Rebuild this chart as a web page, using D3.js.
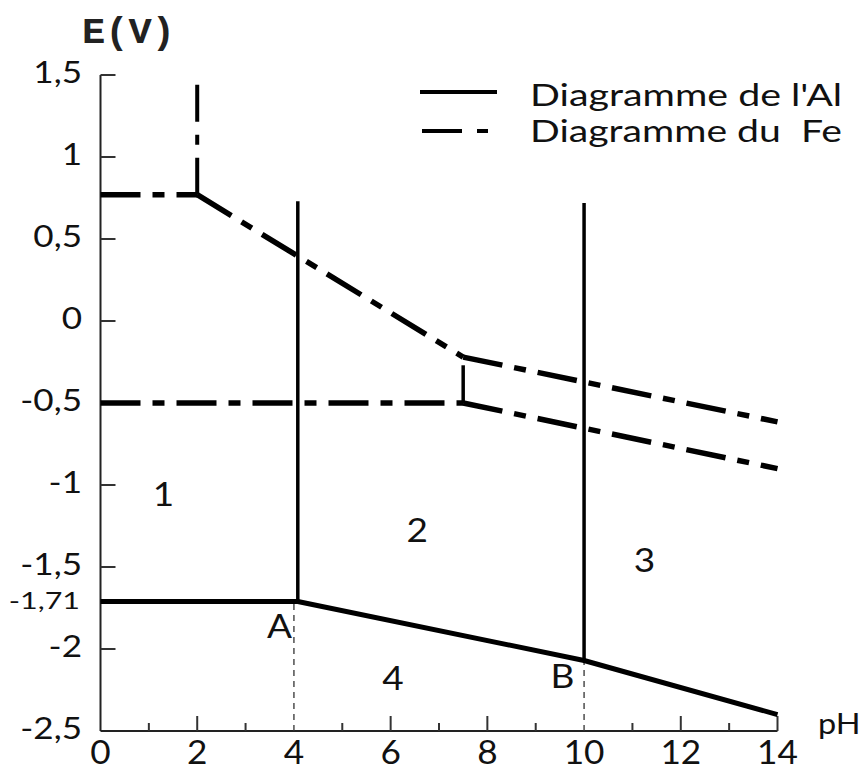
<!DOCTYPE html>
<html><head><meta charset="utf-8">
<script src="https://cdn.jsdelivr.net/npm/d3@7"></script>
<style>
html,body{margin:0;padding:0;background:#fff;}
svg{display:block;}
</style></head>
<body>
<svg id="c" width="866" height="772"></svg>
<script>
// ---- data ----
const yTicks = [1.5, 1, 0.5, 0, -0.5, -1, -1.5, -2, -2.5];
const yTickLabels = ["1,5", "1", "0,5", "0", "-0,5", "-1", "-1,5", "-2", "-2,5"];
const xMajorTicks = [0, 2, 4, 6, 8, 10, 12, 14];
const xMinorTicks = [1, 3, 5, 7, 9, 11, 13];
const alLine = [[0, -1.71], [4.08, -1.71], [10, -2.07], [14, -2.40]];
const alVerticals = [[[4.08, -1.71], [4.08, 0.73]], [[10, -2.07], [10, 0.72]]];
const alGuides = [[4, -2.5, -1.71], [10, -2.5, -2.07]];
const feDashSegments = [
  [[0, 0.77], [2, 0.77]],
  [[2, 0.77], [2, 1.45]],
  [[2, 0.77], [7.5, -0.22]],
  [[7.5, -0.22], [14, -0.615]],
  [[0, -0.5], [7.5, -0.5]],
  [[7.5, -0.5], [14, -0.90]]
];
const feSolidSegments = [[[7.5, -0.5], [7.5, -0.27]]];
const regionLabels = [
  {t: "1", ph: 1.3, e: -1.05},
  {t: "2", ph: 6.55, e: -1.27},
  {t: "3", ph: 11.25, e: -1.45},
  {t: "4", ph: 6.05, e: -2.17},
  {t: "A", ph: 3.7, e: -1.85},
  {t: "B", ph: 9.55, e: -2.16}
];
const legendItems = ["Diagramme de l'Al", "Diagramme du  Fe"];

// ---- scales ----
const svg = d3.select("#c");
const x = d3.scaleLinear().domain([0, 14]).range([100.5, 777.5]);
const y = d3.scaleLinear().domain([-2.5, 1.5]).range([731, 75]);
const line = d3.line().x(d => x(d[0])).y(d => y(d[1]));
const font = "Lato, 'Open Sans', sans-serif";

// axes
svg.append("line").attr("x1", x(0)).attr("x2", x(0)).attr("y1", y(1.5)).attr("y2", y(-2.5))
  .attr("stroke", "#222").attr("stroke-width", 2);
svg.append("line").attr("x1", x(0)).attr("x2", x(14)).attr("y1", y(-2.5)).attr("y2", y(-2.5))
  .attr("stroke", "#222").attr("stroke-width", 2);

// y ticks
svg.selectAll(".yt").data(yTicks.filter(v => v > -2.5)).enter().append("line")
  .attr("x1", x(0)).attr("x2", x(0) + 15).attr("y1", d => y(d)).attr("y2", d => y(d))
  .attr("stroke", "#333").attr("stroke-width", 2);
svg.selectAll(".yl").data(yTicks).enter().append("text")
  .attr("transform", d => `translate(82,${y(d) + 8}) scale(1.17,1)`).attr("text-anchor", "end")
  .attr("font-family", font).attr("font-size", 30).attr("fill", "#111")
  .text((d, i) => yTickLabels[i]);
svg.append("text").attr("transform", `translate(80,${y(-1.71) + 8}) scale(1.27,1)`).attr("text-anchor", "end")
  .attr("font-family", font).attr("font-size", 24).attr("fill", "#111").text("-1,71");

// x ticks
svg.selectAll(".xt").data(xMajorTicks.filter(v => v > 0 && v !== 4 && v !== 10)).enter().append("line")
  .attr("x1", d => x(d)).attr("x2", d => x(d)).attr("y1", y(-2.5)).attr("y2", y(-2.5) - 15)
  .attr("stroke", "#333").attr("stroke-width", 2);
svg.selectAll(".xm").data(xMinorTicks).enter().append("line")
  .attr("x1", d => x(d)).attr("x2", d => x(d)).attr("y1", y(-2.5)).attr("y2", y(-2.5) - 8)
  .attr("stroke", "#333").attr("stroke-width", 2);
svg.selectAll(".xl").data(xMajorTicks).enter().append("text")
  .attr("transform", d => `translate(${x(d)},764) scale(1.1,1)`).attr("text-anchor", "middle")
  .attr("font-family", font).attr("font-size", 32).attr("fill", "#111").text(d => d);

// axis titles
svg.append("text").attr("x", 82).attr("y", 43).attr("font-family", "'Liberation Mono', monospace")
  .attr("font-size", 36).attr("font-weight", "bold").attr("fill", "#222")
  .attr("textLength", 93).attr("lengthAdjust", "spacingAndGlyphs").text("E(V)");
svg.append("text").attr("transform", "translate(818,734) scale(1.12,1)").attr("font-family", font)
  .attr("font-size", 29).attr("fill", "#111").text("pH");

// guides
svg.selectAll(".g").data(alGuides).enter().append("line")
  .attr("x1", d => x(d[0])).attr("x2", d => x(d[0])).attr("y1", d => y(d[1])).attr("y2", d => y(d[2]))
  .attr("stroke", "#333").attr("stroke-width", 1.3).attr("stroke-dasharray", "6,5");

// Fe lines
svg.selectAll(".fe").data(feDashSegments).enter().append("path")
  .attr("d", line).attr("fill", "none").attr("stroke", "#000")
  .attr("stroke-width", (d, i) => i === 1 ? 4 : 5.5).attr("stroke-dasharray", (d, i) => i === 1 ? "37,13,10,13" : "40,12,12,12");
svg.selectAll(".fes").data(feSolidSegments).enter().append("path")
  .attr("d", line).attr("fill", "none").attr("stroke", "#000").attr("stroke-width", 3.5);

// Al lines
svg.selectAll(".alv").data(alVerticals).enter().append("path")
  .attr("d", line).attr("fill", "none").attr("stroke", "#000").attr("stroke-width", 3.5);
svg.append("path").datum(alLine).attr("d", line).attr("fill", "none")
  .attr("stroke", "#000").attr("stroke-width", 5).attr("stroke-linejoin", "round");

// region labels
svg.selectAll(".rl").data(regionLabels).enter().append("text")
  .attr("transform", d => `translate(${x(d.ph)},${y(d.e)}) scale(1.12,1)`).attr("text-anchor", "middle")
  .attr("dominant-baseline", "central").attr("font-family", font).attr("font-size", 33).attr("fill", "#111")
  .text(d => d.t);

// legend
svg.append("line").attr("x1", 420).attr("x2", 497).attr("y1", 92).attr("y2", 92)
  .attr("stroke", "#000").attr("stroke-width", 4);
svg.append("line").attr("x1", 422).attr("x2", 490).attr("y1", 131).attr("y2", 131)
  .attr("stroke", "#000").attr("stroke-width", 4).attr("stroke-dasharray", "40,15,11,100");
svg.selectAll(".lg").data(legendItems).enter().append("text")
  .attr("x", 530).attr("y", (d, i) => 106 + i * 36).attr("font-family", font)
  .attr("font-size", 30).attr("fill", "#111").attr("xml:space", "preserve")
  .attr("textLength", 312).attr("lengthAdjust", "spacingAndGlyphs")
  .text(d => d);
</script>
</body></html>
